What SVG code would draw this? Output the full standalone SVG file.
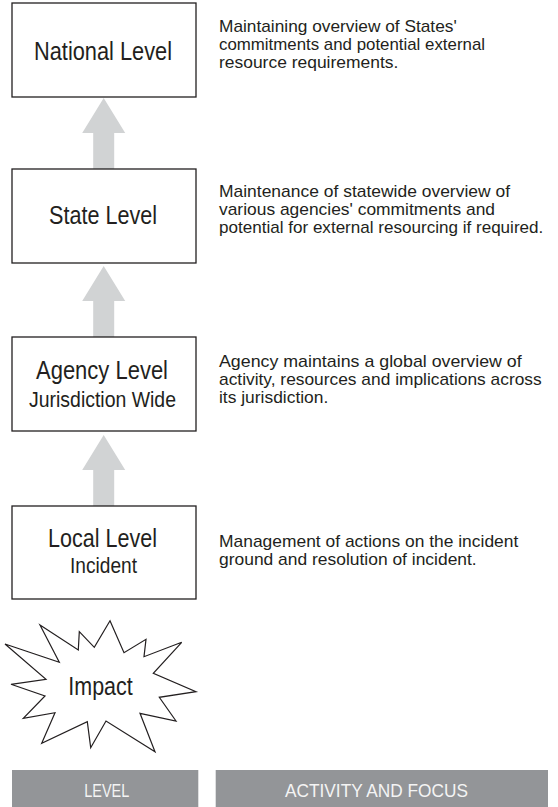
<svg xmlns="http://www.w3.org/2000/svg" width="558" height="807" viewBox="0 0 558 807">
  <style>
    .box { fill: #ffffff; stroke: #231f20; stroke-width: 1.3; }
    .lbl { font-family: "Liberation Sans Narrow", "Liberation Sans", Arial, sans-serif; fill: #231f20; text-anchor: start; }
    .big { font-size: 25px; }
    .sub { font-size: 22px; }
    .desc { font-family: "Liberation Sans Narrow", "Liberation Sans", Arial, sans-serif; font-size: 17px; fill: #231f20; }
    .up { fill: #d1d3d4; }
    .bar { fill: #939598; }
    .head { font-family: "Liberation Sans Narrow", "Liberation Sans", Arial, sans-serif; font-size: 19px; fill: #f4f4f4; }
    .burst { fill: #ffffff; stroke: #231f20; stroke-width: 1.2; stroke-linejoin: miter; }
  </style>
  <defs>
    <!-- upward block arrow, tip at origin -->
    <path id="uparrow" d="M0,0 L21.5,35 L10.5,35 L10.5,71 L-10.5,71 L-10.5,35 L-21.5,35 Z"/>
  </defs>

  <rect width="558" height="807" fill="#ffffff"/>

  <!-- connectors -->
  <g id="connectors" class="up">
    <use href="#uparrow" x="103.7" y="98"/>
    <use href="#uparrow" x="103.7" y="266"/>
    <use href="#uparrow" x="103.7" y="435"/>
  </g>

  <g id="national">
    <rect class="box" x="12" y="3" width="184" height="94"/>
    <text class="lbl big" x="34" y="60" textLength="138" lengthAdjust="spacingAndGlyphs">National Level</text>
  </g>
  <g id="state">
    <rect class="box" x="12" y="169" width="184" height="94"/>
    <text class="lbl big" x="49" y="224" textLength="108" lengthAdjust="spacingAndGlyphs">State Level</text>
  </g>
  <g id="agency">
    <rect class="box" x="12" y="337" width="184" height="94"/>
    <text class="lbl big" x="36" y="379" textLength="132" lengthAdjust="spacingAndGlyphs">Agency Level</text>
    <text class="lbl sub" x="29" y="406.5" textLength="147" lengthAdjust="spacingAndGlyphs">Jurisdiction Wide</text>
  </g>
  <g id="local">
    <rect class="box" x="12" y="506" width="184" height="93"/>
    <text class="lbl big" x="48" y="547" textLength="109" lengthAdjust="spacingAndGlyphs">Local Level</text>
    <text class="lbl sub" x="70" y="573" textLength="67" lengthAdjust="spacingAndGlyphs">Incident</text>
  </g>

  <g id="impact">
    <polygon class="burst" points="110,620.7 124,652.7 146,639.3 144,656.7 181.7,642.3 153.3,673.3 196,691.7 159.3,697.3 176,721 140,713.3 155,751.7 106,721 90.7,747.7 87.3,721.7 41.7,743.3 55,712.7 23.3,718.3 45,696 11,684.3 46,679.3 5,644 59.3,662.3 40,625 78.3,650 79.3,631.7 94.3,647.3"/>
    <text class="lbl big" x="68.3" y="695" textLength="64.4" lengthAdjust="spacingAndGlyphs">Impact</text>
  </g>

  <!-- activity descriptions -->
  <g id="desc-national" class="desc">
    <text x="219" y="31.7" textLength="237.7" lengthAdjust="spacingAndGlyphs">Maintaining overview of States'</text>
    <text x="219" y="50" textLength="266" lengthAdjust="spacingAndGlyphs">commitments and potential external</text>
    <text x="219" y="68.3" textLength="179.3" lengthAdjust="spacingAndGlyphs">resource requirements.</text>
  </g>
  <g id="desc-state" class="desc">
    <text x="219" y="197" textLength="291" lengthAdjust="spacingAndGlyphs">Maintenance of statewide overview of</text>
    <text x="219" y="215" textLength="276" lengthAdjust="spacingAndGlyphs">various agencies' commitments and</text>
    <text x="219" y="233" textLength="324.3" lengthAdjust="spacingAndGlyphs">potential for external resourcing if required.</text>
  </g>
  <g id="desc-agency" class="desc">
    <text x="219" y="366.7" textLength="302.7" lengthAdjust="spacingAndGlyphs">Agency maintains a global overview of</text>
    <text x="219" y="385" textLength="322.7" lengthAdjust="spacingAndGlyphs">activity, resources and implications across</text>
    <text x="219" y="403" textLength="109.3" lengthAdjust="spacingAndGlyphs">its jurisdiction.</text>
  </g>
  <g id="desc-local" class="desc">
    <text x="219" y="546.7" textLength="299.3" lengthAdjust="spacingAndGlyphs">Management of actions on the incident</text>
    <text x="219" y="565" textLength="257.7" lengthAdjust="spacingAndGlyphs">ground and resolution of incident.</text>
  </g>

  <!-- column headings -->
  <g id="heading-level">
    <rect class="bar" x="12" y="770" width="186.3" height="37"/>
    <text class="head" x="84.3" y="796.7" textLength="45" lengthAdjust="spacingAndGlyphs">LEVEL</text>
  </g>
  <g id="heading-activity">
    <rect class="bar" x="215.7" y="770" width="332.3" height="37"/>
    <text class="head" x="285" y="796.7" textLength="183" lengthAdjust="spacingAndGlyphs">ACTIVITY AND FOCUS</text>
  </g>
</svg>
